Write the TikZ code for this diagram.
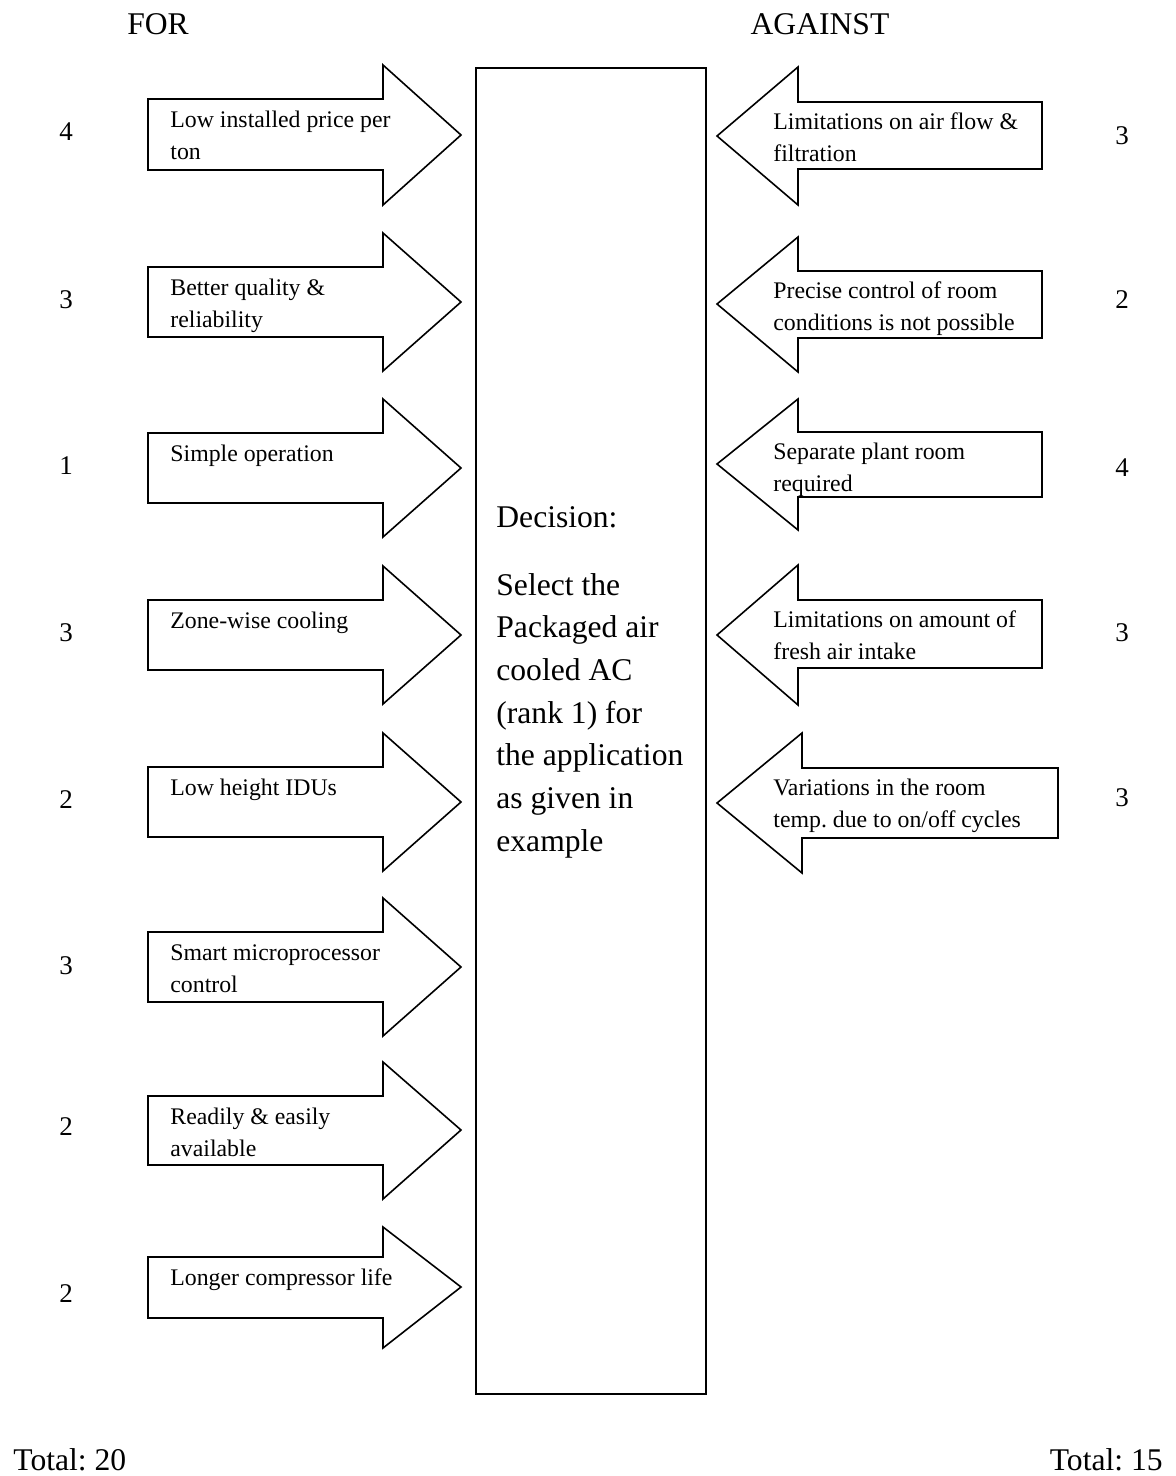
\documentclass[tikz,border=0pt]{standalone}
\usepackage{fontspec}
\setmainfont{Liberation Serif}
\frenchspacing
\begin{document}
\begin{tikzpicture}[x=0.5pt,y=-0.5pt,
  outline/.style={draw=black,line width=0.8pt,line join=miter},
  itemtext/.style={anchor=north west,inner sep=0pt,align=left,
    font=\fontsize{11.9}{16}\selectfont},
  score/.style={inner sep=0pt,font=\fontsize{13.5}{16}\selectfont},
  heading/.style={inner sep=0pt,font=\fontsize{15.8}{19}\selectfont},
  decisiontext/.style={anchor=north west,inner sep=0pt,align=left,
    font=\fontsize{15.8}{21.35}\selectfont}]
\useasboundingbox (0,0) rectangle (1176,1476);

% arrow pointing right: name, tip y, body top, body bottom, head top, head bottom, text
\newcommand\forarrow[7]{%
  \draw[outline] (148,#3) -- (383,#3) -- (383,#5) -- (461,#2) -- (383,#6)
    -- (383,#4) -- (148,#4) -- cycle;
  \node[itemtext] (#1) at (170,#3+5.6) {\strut #7};}
% arrow pointing left: name, tip y, body top, body bottom, head top, head bottom, right edge, head x, text
\newcommand\againstarrow[9]{%
  \draw[outline] (#7,#3) -- (#8,#3) -- (#8,#5) -- (717,#2) -- (#8,#6)
    -- (#8,#4) -- (#7,#4) -- cycle;
  \node[itemtext] (#1) at (773,#3+4.6) {\strut #9};}

% headings
\node[heading] (for) at (158,24) {FOR};
\node[heading] (against) at (820,24) {AGAINST};

% central decision box (sizes in pt: 230 x 1326 picture units)
\node[draw=black,line width=1.1pt,minimum width=115pt,minimum height=663pt,
  inner sep=0pt,anchor=north west] (box) at (475,67) {};
\node[decisiontext] (decision) at (496,497)
  {\strut Decision:\\[12.6pt] Select the\\ Packaged air\\ cooled AC\\ (rank 1) for\\
   the application\\ as given in\\ example};

% reasons for
\forarrow{f1}{135}{99}{170}{65}{205}{Low installed price per\\ ton}
\forarrow{f2}{302}{267}{337}{233}{371}{Better quality \&\\ reliability}
\forarrow{f3}{468}{433}{503}{399}{537}{Simple operation}
\forarrow{f4}{635}{600}{670}{566}{704}{Zone-wise cooling}
\forarrow{f5}{802}{767}{837}{733}{871}{Low height IDUs}
\forarrow{f6}{967}{932}{1002}{898}{1036}{Smart microprocessor\\ control}
\forarrow{f7}{1130}{1096}{1165}{1062}{1199}{Readily \& easily\\ available}
\forarrow{f8}{1287}{1257}{1318}{1227}{1348}{Longer compressor life}

% reasons against
\againstarrow{a1}{136}{102}{169}{67}{205}{1042}{798}{Limitations on air flow \&\\ filtration}
\againstarrow{a2}{304}{271}{338}{237}{372}{1042}{798}{Precise control of room\\ conditions is not possible}
\againstarrow{a3}{464}{432}{497}{399}{530}{1042}{798}{Separate plant room\\ required}
\againstarrow{a4}{635}{600}{668}{565}{705}{1042}{798}{Limitations on amount of\\ fresh air intake}
\againstarrow{a5}{803}{768}{838}{733}{873}{1058}{802}{Variations in the room\\ temp. due to on/off cycles}

% scores
\node[score] (sf1) at (66,132) {4};
\node[score] (sf2) at (66,300) {3};
\node[score] (sf3) at (66,466) {1};
\node[score] (sf4) at (66,633) {3};
\node[score] (sf5) at (66,800) {2};
\node[score] (sf6) at (66,966) {3};
\node[score] (sf7) at (66,1127) {2};
\node[score] (sf8) at (66,1294) {2};
\node[score] (sa1) at (1122,136) {3};
\node[score] (sa2) at (1122,300) {2};
\node[score] (sa3) at (1122,468) {4};
\node[score] (sa4) at (1122,633) {3};
\node[score] (sa5) at (1122,798) {3};

% totals
\node[heading,anchor=base west] (totalfor) at (13,1470) {Total: 20};
\node[heading,anchor=base east] (totalagainst) at (1163,1470) {Total: 15};
\end{tikzpicture}
\end{document}
